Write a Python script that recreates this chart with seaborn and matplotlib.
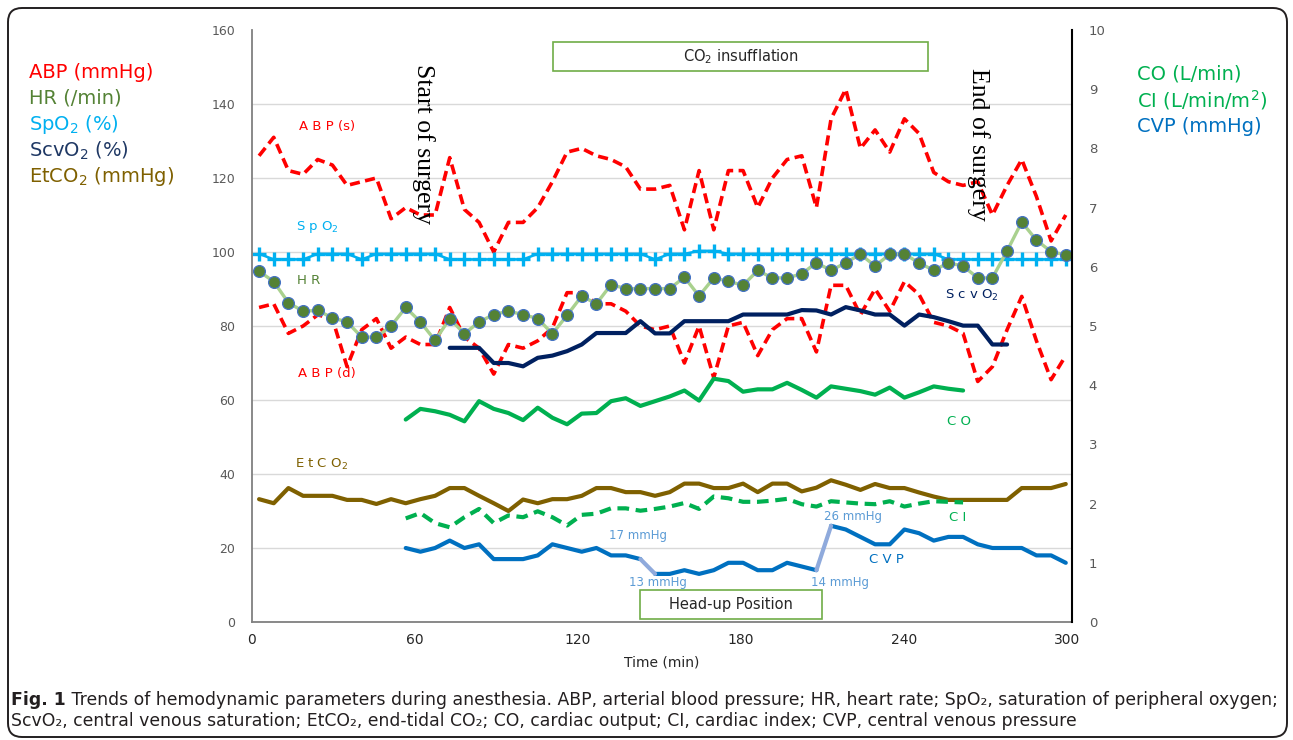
import numpy as np
import matplotlib
matplotlib.use("Agg")
import matplotlib.pyplot as plt
import seaborn as sns
from matplotlib.patches import Rectangle, FancyBboxPatch
from matplotlib.transforms import IdentityTransform

sns.set_style("white")
plt.rcParams["font.family"] = ["DejaVu Sans"]

# time of each reading (min), one reading every ~5.4 min
minutes = np.linspace(2.6, 299.7, 56)

abp_s = [126, 131, 122, 121, 125, 123.5, 118, 119, 120, 109, 112, 110, 110, 125.5, 111.5, 108,
         100, 108, 108, 112, 119, 127, 128, 126, 125, 123, 117, 117, 118, 106, 122, 106, 122,
         122, 112, 120, 125, 126, 112, 136, 144, 128, 133, 127, 136, 132, 121.5, 119, 118, 119,
         110, 118, 125, 115, 103, 110]
abp_d = [85, 86, 78, 80, 83, 82, 69, 79, 82, 74, 77, 75, 75, 85, 77, 74, 67, 75, 74, 76,
         79.5, 89, 89, 86, 86, 84, 80, 79, 80, 70, 80, 66, 80, 81, 72, 79, 82, 82, 73, 91,
         91, 83, 90, 84, 92, 88.5, 81, 80, 78, 65, 69, 79, 88, 76, 65.5, 72]
hr = [94.8, 92, 86.3, 84, 84.2, 82.2, 81.1, 77, 77, 80, 85, 81.1, 76.1, 82, 77.9, 81.1, 83.1,
      84, 83.1, 82, 77.9, 82.9, 88.1, 86, 91.2, 90.1, 90.1, 90.1, 90.1, 93.2, 88.1, 93, 92.1,
      91, 95, 93, 93, 94.1, 97.1, 95, 97.1, 99.4, 96.2, 99.4, 99.4, 97.1, 95, 97.1, 96.2, 93,
      93, 100.3, 108.1, 103.2, 100.1, 99.2]
spo2 = [99.5, 98, 98, 98, 99.5, 99.5, 99.5, 98, 99.5, 99.5, 99.5, 99.5, 99.5, 98, 98, 98, 98,
        98, 98, 99.5, 99.5, 99.5, 99.5, 99.5, 99.5, 99.5, 99.5, 98, 99.5, 99.5, 100.3, 100.3,
        99.5, 99.5, 99.5, 99.5, 99.5, 99.5, 99.5, 99.5, 99.5, 99.5, 99.5, 99.5, 99.5, 99.5,
        99.5, 98, 98, 98, 98, 98, 98, 98, 98, 98]
etco2 = [33.2, 32.1, 36.2, 34.1, 34.1, 34.1, 33, 33, 31.9, 33.2, 32.1, 33.2, 34.1, 36.2, 36.2,
         34.1, 32.1, 30, 33.1, 32.1, 33.2, 33.2, 34.1, 36.2, 36.2, 35.1, 35.1, 34.1, 35.1, 37.4,
         37.4, 36.2, 36.2, 37.4, 35.1, 37.4, 37.4, 35.3, 36.3, 38.3, 37.1, 35.7, 37.3, 36.2,
         36.2, 35, 33.9, 33, 33, 33, 33, 33, 36.2, 36.2, 36.2, 37.3]

# ScvO2 measured from reading 13 to 51
scvo2_start = 13
scvo2 = [74.1, 74.1, 74.1, 70, 70, 69.1, 71.4, 72, 73.2, 75, 78.1, 78.1, 78.1, 81.3, 78, 78,
         81.3, 81.3, 81.3, 81.3, 83.1, 83.1, 83.1, 83.1, 84.3, 84.2, 83.1, 85.1, 84.2, 83.1,
         83.1, 80.1, 83.1, 82.4, 81.3, 80.1, 80.1, 75, 75]

# CO / CI (right axis) from reading 10 to 48
co_start = 10
co = [3.42, 3.6, 3.56, 3.5, 3.39, 3.73, 3.6, 3.53, 3.41, 3.62, 3.45, 3.34, 3.52, 3.53, 3.73,
      3.78, 3.65, 3.73, 3.81, 3.91, 3.74, 4.11, 4.07, 3.89, 3.93, 3.93, 4.04, 3.92, 3.79, 3.98,
      3.94, 3.9, 3.84, 3.96, 3.79, 3.88, 3.98, 3.94, 3.91]
ci = [1.75, 1.84, 1.67, 1.6, 1.77, 1.91, 1.67, 1.8, 1.77, 1.87, 1.77, 1.63, 1.81, 1.83, 1.92,
      1.92, 1.88, 1.91, 1.95, 2.01, 1.91, 2.12, 2.09, 2.03, 2.03, 2.05, 2.08, 1.99, 1.95, 2.04,
      2.02, 2.0, 1.99, 2.04, 1.95, 2.0, 2.04, 2.03, 2.02]

# CVP (mmHg) from reading 10 to 55; head-up jumps at 26->27 and 38->39
cvp_start = 10
cvp = [20, 19, 20, 22, 20, 21, 17, 17, 17, 18, 21, 20, 19, 20, 18, 18, 17, 13, 13, 14, 13, 14,
       16, 16, 14, 14, 16, 15, 14, 26, 25, 23, 21, 21, 25, 24, 22, 23, 23, 21, 20, 20, 20, 18,
       18, 16]
cvp_jumps = [(26, 27), (38, 39)]

W, H = 1293, 740
fig = plt.figure(figsize=(W / 100, H / 100), dpi=100)
ax = fig.add_axes([252 / W, (H - 622) / H, 820 / W, 592 / H])
ax2 = ax.twinx()


def draw(axis, values, start=0, **kw):
    t = minutes[start:start + len(values)]
    sns.lineplot(x=t, y=values, ax=axis, legend=False, **kw)
    return axis.lines[-1]


ln = draw(ax, abp_s, color="#ff0000", lw=2.6, linestyle="--")
ln.set_dashes([2.8, 1.5])
ln = draw(ax, abp_d, color="#ff0000", lw=2.6, linestyle="--")
ln.set_dashes([2.8, 1.5])
draw(ax, spo2, color="#00b0f0", lw=1.8, marker="+", markersize=10, markeredgewidth=2.4,
     markeredgecolor="#00b0f0")
draw(ax, hr, color="#a9d18e", lw=2.4, marker="o", markersize=8.5,
     markerfacecolor="#548235", markeredgecolor="#4472c4", markeredgewidth=0.9)
draw(ax, scvo2, scvo2_start, color="#002060", lw=3)
draw(ax, etco2, color="#7f6000", lw=3)

# CVP segments, the jumps drawn in a pale blue
seg_edges = [cvp_start] + [b for a, b in cvp_jumps] + [cvp_start + len(cvp)]
for s, e in zip(seg_edges[:-1], seg_edges[1:]):
    draw(ax, cvp[s - cvp_start:e - cvp_start], s, color="#0070c0", lw=3)
for a, b in cvp_jumps:
    draw(ax, cvp[a - cvp_start:b - cvp_start + 1], a, color="#8faadc", lw=3)

draw(ax2, co, co_start, color="#00b050", lw=3)
ln = draw(ax2, ci, co_start, color="#00b050", lw=3, linestyle="--")
ln.set_dashes([2.8, 1.6])

ax.set_xlim(0, 302)
ax.set_ylim(0, 160)
ax2.set_ylim(0, 10)
ax.set_xticks(range(0, 301, 60))
ax.set_yticks(range(0, 161, 20))
ax2.set_yticks(range(0, 11, 1))
ax.set_xlabel("Time (min)", fontsize=10, color="#262626", labelpad=6)
ax.set_ylabel("")
ax2.set_ylabel("")

ax.grid(axis="y", color="#d9d9d9", lw=1)
ax.get_ygridlines()[-1].set_visible(False)
ax.tick_params(length=0, labelcolor="#595959", labelsize=9, pad=12)
ax.tick_params(axis="x", labelsize=10, labelcolor="#262626", pad=8)
ax2.tick_params(length=0, labelcolor="#595959", labelsize=9.5, pad=12)

for a in (ax, ax2):
    a.spines["top"].set_visible(False)
ax.spines["right"].set_visible(False)
ax2.spines["left"].set_visible(False)
ax2.spines["bottom"].set_visible(False)
ax.spines["left"].set_color("#808080")
ax.spines["bottom"].set_color("#808080")
ax.spines["left"].set_linewidth(1.3)
ax.spines["bottom"].set_linewidth(1.3)
ax2.spines["right"].set_color("black")
ax2.spines["right"].set_linewidth(1.5)

# series names inside the plot
narrow = ["Liberation Sans Narrow", "DejaVu Sans"]
inline = [
    ("A B P (s)", 27.5, 134, "#ff0000"),
    ("S p O$_2$", 24, 106.7, "#00b0f0"),
    ("H R", 20.8, 92.3, "#548235"),
    ("A B P (d)", 27.5, 67.1, "#ff0000"),
    ("E t C O$_2$", 25.6, 42.5, "#7f6000"),
    ("S c v O$_2$", 265, 88.3, "#002060"),
    ("C O", 260.5, 54.1, "#00b050"),
    ("C I", 259.7, 28.2, "#00b050"),
    ("C V P", 233.5, 16.8, "#0070c0"),
]
for txt, x, y, c in inline:
    ax.text(x, y, txt, color=c, fontsize=9.5, family=narrow, ha="center", va="center")

# CVP values at the head-up changes
for txt, x, y in [("17 mmHg", 142, 23.5), ("13 mmHg", 149.5, 10.8),
                  ("14 mmHg", 216.5, 10.8), ("26 mmHg", 221.5, 28.4)]:
    ax.text(x, y, txt, color="#5b9bd5", fontsize=8.5, ha="center", va="center")

# event boxes
ax.add_patch(Rectangle((111, 148.8), 138, 8, facecolor="white", edgecolor="#70ad47",
                       lw=1.2, zorder=5))
ax.text(180, 152.8, "CO$_2$ insufflation", fontsize=10.5, color="#262626",
        ha="center", va="center", zorder=6)
ax.add_patch(Rectangle((143, 0.9), 67, 7.8, facecolor="white", edgecolor="#70ad47",
                       lw=1.2, zorder=5))
ax.text(176.5, 4.8, "Head-up Position", fontsize=10.5, color="#262626",
        ha="center", va="center", zorder=6)

serif = ["Liberation Serif", "DejaVu Serif"]
ax.text(63, 129.1, "Start of surgery", rotation=-90, fontsize=18.5, family=serif,
        ha="center", va="center", color="black")
ax.text(267.5, 129.1, "End of surgery", rotation=-90, fontsize=18.5, family=serif,
        ha="center", va="center", color="black")

# legend-like labels outside the axes
left_labels = [("ABP (mmHg)", "#ff0000"), ("HR (/min)", "#548235"),
               ("SpO$_2$ (%)", "#00b0f0"), ("ScvO$_2$ (%)", "#1f3864"),
               ("EtCO$_2$ (mmHg)", "#7f6000")]
for k, (txt, c) in enumerate(left_labels):
    fig.text(29 / W, 1 - (72 + 26.2 * k) / H, txt, color=c, fontsize=14, va="center")
right_labels = [("CO (L/min)", "#00b050"), ("CI (L/min/m$^2$)", "#00b050"),
                ("CVP (mmHg)", "#0070c0")]
for k, (txt, c) in enumerate(right_labels):
    fig.text(1137 / W, 1 - (74 + 26 * k) / H, txt, color=c, fontsize=14, va="center")

# rounded frame
fig.patches.append(FancyBboxPatch((8, 3), 1279, 729, boxstyle="round,pad=0,rounding_size=14",
                                  transform=IdentityTransform(), facecolor="none",
                                  edgecolor="#231f20", lw=1.4))

# caption
fig.canvas.draw()
r = fig.canvas.get_renderer()
cap_lines = [
    [("Fig. 1", "bold"), (" Trends of hemodynamic parameters during anesthesia. ABP, arterial "
                          "blood pressure; HR, heart rate; SpO\u2082, saturation of peripheral oxygen;",
                          "normal")],
    [("ScvO\u2082, central venous saturation; EtCO\u2082, end-tidal CO\u2082; CO, cardiac output; "
      "CI, cardiac index; CVP, central venous pressure", "normal")],
]
cap_size = 12.4
for k, parts in enumerate(cap_lines):
    x = 11
    for txt, weight in parts:
        t = fig.text(x / W, 1 - (700 + 21 * k) / H, txt, fontsize=cap_size, fontweight=weight,
                     color="#231f20", va="center")
        x += t.get_window_extent(r).width

fig.savefig("out.png", dpi=100)
